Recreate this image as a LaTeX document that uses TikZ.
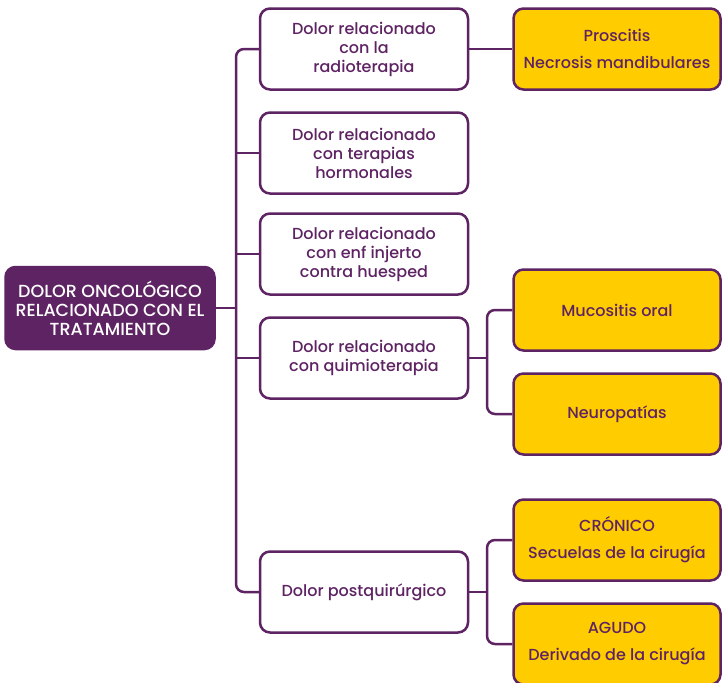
\documentclass[tikz,border=0pt]{standalone}
\usepackage{fontspec}
\setmainfont{Poppins}[UprightFont={* Medium}]
\usepackage{xcolor}
\usepackage{tikz}
\definecolor{plum}{HTML}{5E2363}
\definecolor{amber}{HTML}{FFCC00}
\definecolor{paper}{HTML}{FFFFFF}
\tikzset{
  root/.style={draw=plum, fill=plum, line width=2.5pt, rounded corners=10pt, minimum width=209pt, minimum height=82pt, align=center, text=white, font=\fontsize{17.5}{19}\selectfont},
  mid/.style={draw=plum, fill=paper, line width=2.5pt, rounded corners=10pt, minimum width=208pt, minimum height=81pt, align=center, text=plum, font=\fontsize{16}{19}\selectfont},
  leaf/.style={draw=plum, fill=amber, line width=2.5pt, rounded corners=10pt, minimum width=207pt, minimum height=81pt, align=center, text=plum, font=\fontsize{16}{19}\selectfont},
  link/.style={draw=plum, line width=2.5pt, rounded corners=8pt},
}

\begin{document}
\begin{tikzpicture}[x=1pt, y=-1pt]
  \useasboundingbox[fill=white] (0,0) rectangle (724,683);
  % left side
  \node[root] (onco) at (110,308) {DOLOR ONCOLÓGICO\\RELACIONADO CON EL\\TRATAMIENTO};
  \node[mid] (radio) at (364,49) {Dolor relacionado\\con la\\radioterapia};
  \node[mid] (hormo) at (364,153) {Dolor relacionado\\con terapias\\hormonales};
  \node[mid] (injer) at (364,254) {Dolor relacionado\\con enf injerto\\contra huesped};
  \node[mid] (quimio) at (364,358) {Dolor relacionado\\con quimioterapia};
  \node[mid] (cirug) at (364,592) {Dolor postquirúrgico};
  % right side
  \node[leaf] (mandi) at (617,49) {Proscitis\\[8pt]Necrosis mandibulares};
  \node[leaf] (mucos) at (617,310) {Mucositis oral};
  \node[leaf] (neuro) at (617,414) {Neuropatías};
  \node[leaf] (cron) at (617,540) {CRÓNICO\\[8pt]Secuelas de la cirugía};
  \node[leaf] (agud) at (617,644) {AGUDO\\[8pt]Derivado de la cirugía};
  % trunk
  \coordinate (tr) at (236,308);
  \coordinate (tq) at (487,358);
  \coordinate (tc) at (487,592);
  \draw[link] (onco.east) -- (tr);
  \draw[link] (radio.west) -| (tr) |- (cirug.west);
  \draw[link] (hormo.west) -- (hormo.west -| tr);
  \draw[link] (injer.west) -- (injer.west -| tr);
  \draw[link] (quimio.west) -- (quimio.west -| tr);
  \draw[link] (radio.east) -- (mandi.west);
  \draw[link] (quimio.east) -- (tq);
  \draw[link] (mucos.west) -| (tq) |- (neuro.west);
  \draw[link] (cirug.east) -- (tc);
  \draw[link] (cron.west) -| (tc) |- (agud.west);
\end{tikzpicture}
\end{document}
